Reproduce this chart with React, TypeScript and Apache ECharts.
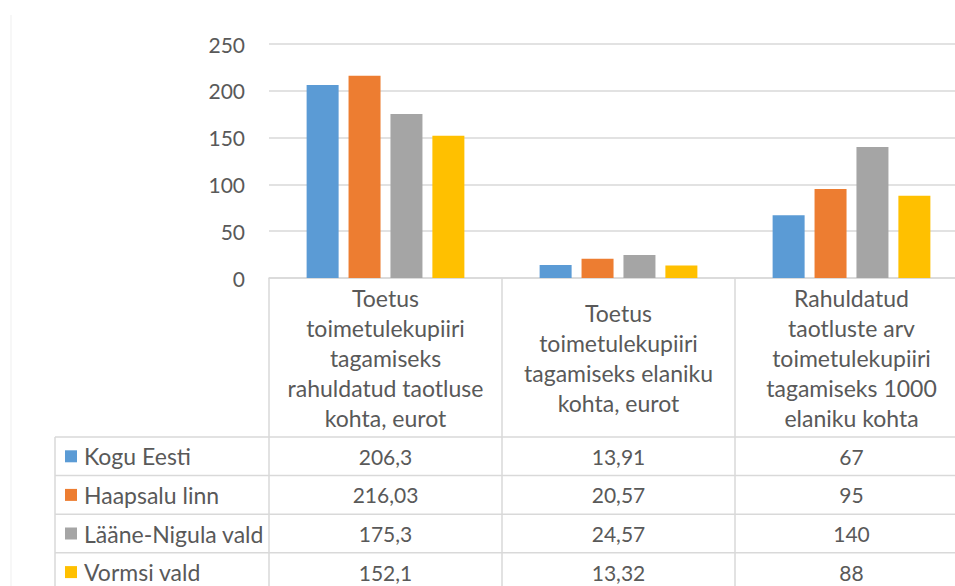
import React, { useEffect, useRef } from "react";
import * as echarts from "echarts";

const categories = [
  "Toetus\ntoimetulekupiiri\ntagamiseks\nrahuldatud taotluse\nkohta, eurot",
  "Toetus\ntoimetulekupiiri\ntagamiseks elaniku\nkohta, eurot",
  "Rahuldatud\ntaotluste arv\ntoimetulekupiiri\ntagamiseks 1000\nelaniku kohta",
];
const seriesNames = ["Kogu Eesti", "Haapsalu linn", "Lääne-Nigula vald", "Vormsi vald"];
const koguEesti = [206.3, 13.91, 67];
const haapsaluLinn = [216.03, 20.57, 95];
const laaneNigulaVald = [175.3, 24.57, 140];
const vormsiVald = [152.1, 13.32, 88];
const seriesValues = [koguEesti, haapsaluLinn, laaneNigulaVald, vormsiVald];
const colors = ["#5B9BD5", "#ED7D31", "#A5A5A5", "#FFC000"];
const yTicks = [0, 50, 100, 150, 200, 250];

const FONT = "Lato";
const TXT = "#595959";
const LINE = "#d9d9d9";

export default function App() {
  const ref = useRef<HTMLDivElement>(null);
  useEffect(() => {
    const chart = echarts.init(ref.current!, null, { renderer: "svg" });
    const option: any = {
      animation: false,
      grid: { left: 269, right: 12, top: 44, bottom: 308 },
      xAxis: {
        type: "category",
        data: categories,
        axisLine: { lineStyle: { color: LINE, width: 1.5 } },
        axisTick: { show: true, length: 320, interval: 0, lineStyle: { color: LINE, width: 1.5 } },
        axisLabel: {
          interval: 0,
          color: TXT,
          fontFamily: FONT,
          fontSize: 23,
          lineHeight: 30,
          verticalAlign: "middle",
          align: "center",
          margin: 80,
        },
      },
      yAxis: {
        type: "value",
        min: yTicks[0],
        max: yTicks[yTicks.length - 1],
        interval: 50,
        axisLine: { show: false },
        axisTick: { show: false },
        splitLine: { lineStyle: { color: LINE, width: 1.5 } },
        axisLabel: { color: TXT, fontFamily: FONT, fontSize: 21, margin: 24 },
      },
      series: seriesNames.map((name, i) => ({
        name,
        type: "bar",
        data: seriesValues[i],
        barWidth: 32,
        barGap: "31%",
        itemStyle: { color: colors[i] },
      })),
    };
    chart.setOption(option);

    const xs = categories.map((_, i) => chart.convertToPixel({ xAxisIndex: 0 }, i) as number);
    const rowTop = 437;
    const rowH = 38.6;
    const g: any[] = [];
    g.push({
      type: "line",
      shape: { x1: 11, y1: 15, x2: 11, y2: 586 },
      style: { stroke: "#efefef", lineWidth: 1 },
    });
    for (let r = 0; r < seriesNames.length; r++) {
      g.push({
        type: "line",
        shape: { x1: 55, y1: rowTop + r * rowH, x2: 980, y2: rowTop + r * rowH },
        style: { stroke: LINE, lineWidth: 1.5 },
      });
    }
    g.push({
      type: "line",
      shape: { x1: 55, y1: rowTop, x2: 55, y2: 586 },
      style: { stroke: LINE, lineWidth: 1.5 },
    });
    seriesNames.forEach((name, r) => {
      const cy = rowTop + rowH * (r + 0.5);
      g.push({
        type: "rect",
        shape: { x: 65, y: cy - 6, width: 12, height: 12 },
        style: { fill: colors[r] },
      });
      g.push({
        type: "text",
        x: 84,
        y: cy,
        style: { text: name, fill: TXT, font: `23px ${FONT}`, verticalAlign: "middle", align: "left" },
      });
      seriesValues[r].forEach((v, c) => {
        g.push({
          type: "text",
          x: xs[c],
          y: cy,
          style: {
            text: String(v).replace(".", ","),
            fill: TXT,
            font: `21px ${FONT}`,
            verticalAlign: "middle",
            align: "center",
          },
        });
      });
    });
    chart.setOption({ graphic: g });
    return () => chart.dispose();
  }, []);
  return (
    <div
      style={{ position: "fixed", left: 0, top: 0, width: 955, height: 586, overflow: "hidden", background: "#fff" }}
    >
      <div ref={ref} style={{ width: 980, height: 586 }} />
    </div>
  );
}
